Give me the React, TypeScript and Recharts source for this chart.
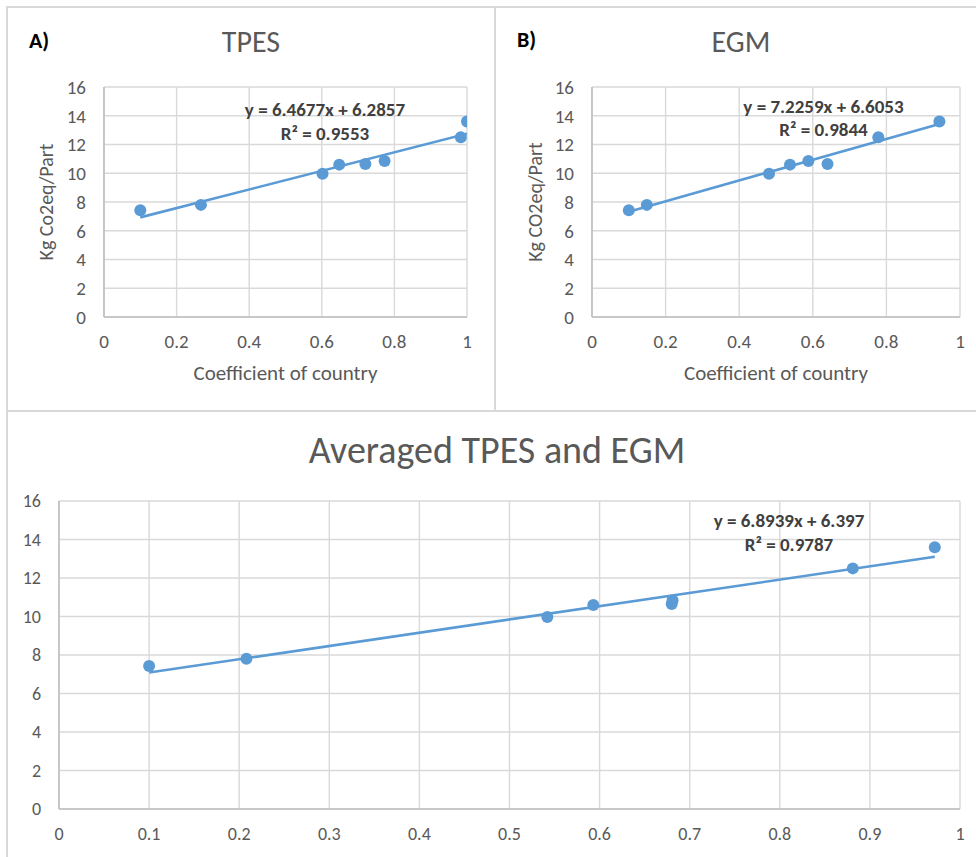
import React from "react";
import { ScatterChart, Scatter, XAxis, YAxis, CartesianGrid } from "recharts";

// Emission values (Kg CO2eq/Part), shared by all three panels
const emissions = [7.43, 7.8, 9.97, 10.6, 10.65, 10.85, 12.5, 13.6];
// Coefficient of country per panel (same order as emissions)
const tpesX = [0.1, 0.267, 0.602, 0.648, 0.72, 0.773, 0.983, 1.0];
const egmX = [0.1, 0.149, 0.481, 0.538, 0.64, 0.588, 0.778, 0.944];
const avgX = [0.1, 0.208, 0.542, 0.593, 0.68, 0.681, 0.881, 0.972];

// Linear trendline end points (from the displayed equations)
const tpesTrendX = [0.1, 1.0];
const tpesTrendY = [6.93, 12.75];
const egmTrendX = [0.1, 0.944];
const egmTrendY = [7.33, 13.43];
const avgTrendX = [0.1, 0.972];
const avgTrendY = [7.09, 13.1];

const yTicks = [0, 2, 4, 6, 8, 10, 12, 14, 16];
const xTicksTop = [0, 0.2, 0.4, 0.6, 0.8, 1];
const xTicksBottom = [0, 0.1, 0.2, 0.3, 0.4, 0.5, 0.6, 0.7, 0.8, 0.9, 1];

const titles = { a: "TPES", b: "EGM", avg: "Averaged TPES and EGM" };
const panelTags = { a: "A)", b: "B)" };
const equations = {
  a: ["y = 6.4677x + 6.2857", "R² = 0.9553"],
  b: ["y = 7.2259x + 6.6053", "R² = 0.9844"],
  avg: ["y = 6.8939x + 6.397", "R² = 0.9787"],
};
const xLabel = "Coefficient of country";
const yLabelA = "Kg Co2eq/Part";
const yLabelB = "Kg CO2eq/Part";

const BLUE = "#5b9bd5";
const GRID = "#d9d9d9";
const AXIS = "#bfbfbf";
const TXT = "#595959";
const FONT = "Carlito, Lato, 'Noto Sans', sans-serif";

const zip = (xs: number[], ys: number[]) => xs.map((x, i) => ({ x, y: ys[i] }));

const Dot = (p: any) => <circle cx={p.cx} cy={p.cy} r={6} fill={BLUE} />;
const NoDot = () => <g />;

const makeXTick = (fs: number) => (p: any) => (
  <text x={p.x} y={p.y} dy="0.71em" textAnchor="middle" fill={TXT} fontSize={fs} fontFamily={FONT}>
    {String(p.payload.value)}
  </text>
);
const makeYTick = (fs: number) => (p: any) => (
  <text x={p.x} y={p.y} dy="0.36em" textAnchor="end" fill={TXT} fontSize={fs} fontFamily={FONT}>
    {String(p.payload.value)}
  </text>
);

type PanelProps = {
  width: number;
  height: number;
  margin: { top: number; right: number; bottom: number; left: number };
  yWidth: number;
  xHeight: number;
  xTicks: number[];
  fontSize: number;
  tickGap: number;
  points: { x: number; y: number }[];
  trend: { x: number; y: number }[];
};

function Panel(props: PanelProps) {
  const { width, height, margin, yWidth, xHeight, xTicks, fontSize, tickGap, points, trend } = props;
  return (
    <ScatterChart width={width} height={height} margin={margin} style={{ fontFamily: FONT }}>
      <CartesianGrid stroke={GRID} strokeWidth={1.4} />
      <XAxis
        type="number"
        dataKey="x"
        domain={[0, 1]}
        ticks={xTicks}
        interval={0}
        height={xHeight}
        axisLine={{ stroke: AXIS, strokeWidth: 1.6 }}
        tickLine={false}
        tickSize={0}
        tickMargin={tickGap}
        tick={makeXTick(fontSize)}
        allowDataOverflow
      />
      <YAxis
        type="number"
        dataKey="y"
        domain={[0, 16]}
        ticks={yTicks}
        interval={0}
        width={yWidth}
        axisLine={{ stroke: AXIS, strokeWidth: 1.6 }}
        tickLine={false}
        tickSize={0}
        tickMargin={18}
        tick={makeYTick(fontSize)}
        allowDataOverflow
      />
      <Scatter data={points} shape={Dot} isAnimationActive={false} />
      <Scatter
        data={trend}
        shape={NoDot}
        line={{ stroke: BLUE, strokeWidth: 2.6 }}
        isAnimationActive={false}
      />
    </ScatterChart>
  );
}

export default function App() {
  const frame = { position: "absolute" as const, background: GRID };
  const eq = { fontSize: 19, fontWeight: "bold" as const, fill: "#404040", textAnchor: "middle" as const };
  return (
    <div
      style={{
        position: "absolute",
        left: 0,
        top: 0,
        width: 976,
        height: 857,
        background: "#fff",
        overflow: "hidden",
        fontFamily: FONT,
      }}
    >
      {/* frame lines */}
      <div style={{ ...frame, left: 6, top: 6, width: 2, height: 851 }} />
      <div style={{ ...frame, left: 6, top: 6, width: 970, height: 2 }} />
      <div style={{ ...frame, left: 494, top: 6, width: 2, height: 405 }} />
      <div style={{ ...frame, left: 6, top: 410, width: 970, height: 2 }} />

      <div style={{ position: "absolute", left: 0, top: 0 }}>
        <Panel
          width={495}
          height={410}
          margin={{ top: 87, right: 28, bottom: 0, left: 0 }}
          yWidth={104}
          xHeight={93}
          xTicks={xTicksTop}
          fontSize={19}
          tickGap={18}
          points={zip(tpesX, emissions)}
          trend={zip(tpesTrendX, tpesTrendY)}
        />
      </div>
      <div style={{ position: "absolute", left: 496, top: 0 }}>
        <Panel
          width={480}
          height={410}
          margin={{ top: 87, right: 16, bottom: 0, left: 0 }}
          yWidth={96}
          xHeight={93}
          xTicks={xTicksTop}
          fontSize={19}
          tickGap={18}
          points={zip(egmX, emissions)}
          trend={zip(egmTrendX, egmTrendY)}
        />
      </div>
      <div style={{ position: "absolute", left: 0, top: 411 }}>
        <Panel
          width={976}
          height={446}
          margin={{ top: 90, right: 16, bottom: 0, left: 0 }}
          yWidth={59}
          xHeight={48}
          xTicks={xTicksBottom}
          fontSize={18}
          tickGap={18}
          points={zip(avgX, emissions)}
          trend={zip(avgTrendX, avgTrendY)}
        />
      </div>

      <svg
        width={976}
        height={857}
        style={{ position: "absolute", left: 0, top: 0, pointerEvents: "none", fontFamily: FONT }}
      >
        <text x={29} y={48} fontSize={22} fontWeight="bold" fill="#000">{panelTags.a}</text>
        <text x={517} y={47} fontSize={22} fontWeight="bold" fill="#000">{panelTags.b}</text>
        <text x={251} y={52} fontSize={30} fill={TXT} textAnchor="middle">{titles.a}</text>
        <text x={741} y={52} fontSize={30} fill={TXT} textAnchor="middle">{titles.b}</text>
        <text x={497} y={463} fontSize={38} fill={TXT} textAnchor="middle">{titles.avg}</text>

        <text x={325} y={116} {...eq}>{equations.a[0]}</text>
        <text x={325} y={140} {...eq}>{equations.a[1]}</text>
        <text x={823.5} y={113} {...eq}>{equations.b[0]}</text>
        <text x={823.5} y={136} {...eq}>{equations.b[1]}</text>
        <text x={789} y={527} {...eq}>{equations.avg[0]}</text>
        <text x={789} y={551} {...eq}>{equations.avg[1]}</text>

        <text x={285.5} y={380} fontSize={21} fill={TXT} textAnchor="middle">{xLabel}</text>
        <text x={776} y={380} fontSize={21} fill={TXT} textAnchor="middle">{xLabel}</text>
        <text transform="translate(53,202) rotate(-90)" fontSize={20} fill={TXT} textAnchor="middle">
          {yLabelA}
        </text>
        <text transform="translate(542,202) rotate(-90)" fontSize={20} fill={TXT} textAnchor="middle">
          {yLabelB}
        </text>
      </svg>
    </div>
  );
}
